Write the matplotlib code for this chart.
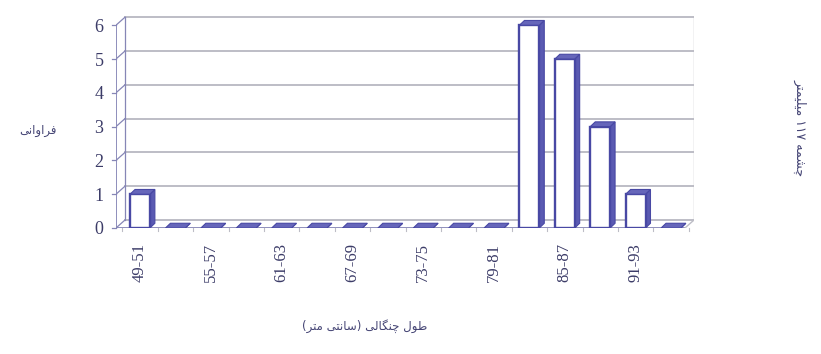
import matplotlib
matplotlib.use("Agg")
import matplotlib.pyplot as plt
from matplotlib.patches import Polygon, Rectangle

# ---------------- data ----------------
categories = ["49-51", "52-54", "55-57", "58-60", "61-63", "64-66", "67-69", "70-72",
              "73-75", "76-78", "79-81", "82-84", "85-87", "88-90", "91-93", "94-96"]
frequency = [1, 0, 0, 0, 0, 0, 0, 0, 0, 0, 0, 6, 5, 3, 1, 0]
shown_labels = ["49-51", "55-57", "61-63", "67-69", "73-75", "79-81", "85-87", "91-93"]
y_ticks = [0, 1, 2, 3, 4, 5, 6]
y_label = "فراوانی"
x_label = "طول چنگالی (سانتی متر)"
side_note = "چشمه ۱۱۷ میلیمتر"

# ---------------- simple Persian shaping (presentation forms) ----------------
FORMS = {  # iso, fin, ini, med
    'ا': ('\uFE8D', '\uFE8E', None, None),
    'ر': ('\uFEAD', '\uFEAE', None, None),
    'و': ('\uFEED', '\uFEEE', None, None),
    'ف': ('\uFED1', '\uFED2', '\uFED3', '\uFED4'),
    'ن': ('\uFEE5', '\uFEE6', '\uFEE7', '\uFEE8'),
    'ی': ('\uFBFC', '\uFBFD', '\uFBFE', '\uFBFF'),
    'ط': ('\uFEC1', '\uFEC2', '\uFEC3', '\uFEC4'),
    'ل': ('\uFEDD', '\uFEDE', '\uFEDF', '\uFEE0'),
    'چ': ('\uFB7A', '\uFB7B', '\uFB7C', '\uFB7D'),
    'گ': ('\uFB92', '\uFB93', '\uFB94', '\uFB95'),
    'س': ('\uFEB1', '\uFEB2', '\uFEB3', '\uFEB4'),
    'ت': ('\uFE95', '\uFE96', '\uFE97', '\uFE98'),
    'م': ('\uFEE1', '\uFEE2', '\uFEE3', '\uFEE4'),
    'ش': ('\uFEB5', '\uFEB6', '\uFEB7', '\uFEB8'),
    'ه': ('\uFEE9', '\uFEEA', '\uFEEB', '\uFEEC'),
}


def joins_left(c):
    return c in FORMS and FORMS[c][2] is not None


def shape(text):
    out = []
    n = len(text)
    for i, c in enumerate(text):
        if c not in FORMS:
            out.append(c)
            continue
        prev_j = i > 0 and joins_left(text[i - 1])
        next_j = i < n - 1 and text[i + 1] in FORMS and joins_left(c)
        iso, fin, ini, med = FORMS[c]
        if prev_j and next_j:
            out.append(med)
        elif prev_j:
            out.append(fin)
        elif next_j:
            out.append(ini)
        else:
            out.append(iso)
    return ''.join(out)


def visual(text):
    s = shape(text)
    runs = []
    cur = ''
    for ch in s:
        isd = ch.isdigit()
        if cur and cur[-1].isdigit() == isd:
            cur += ch
        else:
            if cur:
                runs.append(cur)
            cur = ch
    if cur:
        runs.append(cur)
    res = []
    for r in reversed(runs):
        res.append(r if r[0].isdigit() else r[::-1])
    v = ''.join(res)
    mirror = {'(': ')', ')': '('}
    return ''.join(mirror.get(c, c) for c in v)


# ---------------- figure ----------------
W, H = 821, 354
fig = plt.figure(figsize=(W / 100, H / 100), dpi=100)
fig.patch.set_facecolor("white")

left_px, right_px = 116, 694
bottom_px, top_px = 228, 14
ax = fig.add_axes([left_px / W, (H - bottom_px) / H,
                   (right_px - left_px) / W, (bottom_px - top_px) / H])
unit = 35.4
yunit = 33.8
xmin = -(140 - left_px) / unit
xmax = xmin + (right_px - left_px) / unit
ymax = (bottom_px - top_px) / yunit
ax.set_xlim(xmin, xmax)
ax.set_ylim(0, ymax)
for s in ax.spines.values():
    s.set_visible(False)

ddx, ddy = 9 / unit, 8 / yunit
grid_c = "#bdbdc6"
wall_c = "#8686b6"
bar_edge = "#4848a4"
side_c = "#5a5ab2"
top_c = "#6666ba"

# back wall gridlines
for g in y_ticks:
    ax.plot([xmin + ddx, xmax], [g + ddy, g + ddy], color=grid_c, lw=1.4, zorder=1)
    ax.plot([xmin, xmin + ddx], [g, g + ddy], color=wall_c, lw=0.9, zorder=1)
    ax.plot([xmin - 0.1, xmin], [g, g], color=wall_c, lw=0.9, zorder=1, clip_on=False)
# right edge of back wall
ax.plot([xmax, xmax], [ddy, y_ticks[-1] + ddy], color=grid_c, lw=1.0, zorder=1)
# left wall edges
ax.plot([xmin, xmin], [0, y_ticks[-1]], color=wall_c, lw=1.3, zorder=2)
ax.plot([xmin + ddx, xmin + ddx], [ddy, y_ticks[-1] + ddy], color=wall_c, lw=0.9, zorder=2)
# floor
ax.plot([xmin, xmax - ddx], [0, 0], color=wall_c, lw=1.3, zorder=2)
ax.plot([xmax - ddx, xmax], [0, ddy], color=grid_c, lw=1.0, zorder=2)
for i in range(len(categories) + 1):
    xb = i - 0.5
    ax.plot([xb, xb], [0, -0.08], color=grid_c, lw=0.8, zorder=2, clip_on=False)

# bars
w = 0.56
d = 0.14
for i, v in enumerate(frequency):
    x0, x1 = i - w / 2, i + w / 2
    side = Polygon([(x1, 0), (x1 + d, d), (x1 + d, v + d), (x1, v)],
                   closed=True, facecolor=side_c, edgecolor=bar_edge, lw=0.8, zorder=3)
    ax.add_patch(side)
    if v > 0:
        ax.add_patch(Rectangle((x0, 0), w, v, facecolor="white",
                               edgecolor=bar_edge, lw=1.7, zorder=4))
    top = Polygon([(x0, v), (x0 + d, v + d), (x1 + d, v + d), (x1, v)],
                  closed=True, facecolor=top_c, edgecolor=bar_edge, lw=0.8, zorder=5)
    ax.add_patch(top)

# ticks
tick_color = "#3c3c68"
xt = [categories.index(lbl) for lbl in shown_labels]
ax.set_xticks(xt)
ax.set_xticklabels(shown_labels, rotation=90, fontsize=12, color=tick_color,
                   family="Liberation Serif")
ax.set_yticks(y_ticks)
ax.set_yticklabels([str(t) for t in y_ticks], fontsize=13, color=tick_color,
                   family="Liberation Serif")
ax.tick_params(axis="x", length=0, pad=11)
ax.tick_params(axis="y", length=0, pad=9)
ax.set_facecolor("white")

# texts
txt_c = "#454575"
fig.text(38 / W, 1 - 130 / H, visual(y_label), fontsize=8.5, color=txt_c,
         ha="center", va="center", family=["DejaVu Sans"])
fig.text(365 / W, 1 - 326 / H, visual(x_label), fontsize=8.5, color=txt_c,
         ha="center", va="center", family=["DejaVu Sans"])
fig.text(800 / W, 1 - 128 / H, visual(side_note), fontsize=9, color=txt_c,
         ha="center", va="center", rotation=270, family=["DejaVu Sans"])

fig.savefig("out.png", dpi=100, facecolor="white")
